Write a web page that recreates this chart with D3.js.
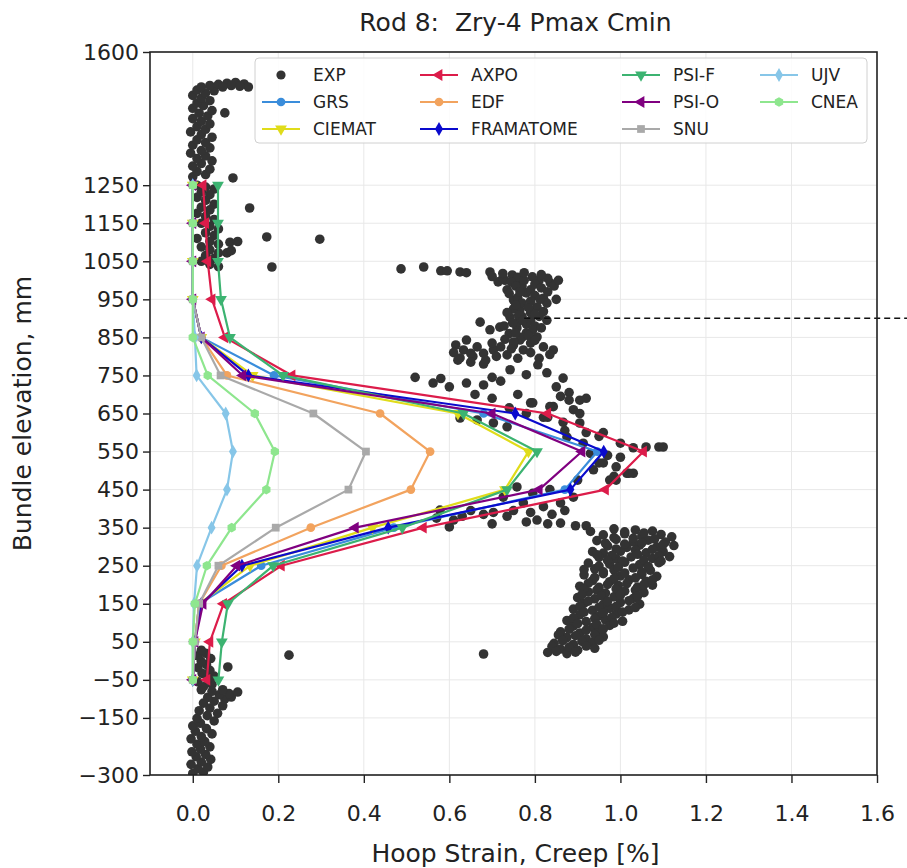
<!DOCTYPE html>
<html>
<head>
<meta charset="utf-8">
<script src="https://cdn.jsdelivr.net/npm/d3@7/dist/d3.min.js"></script>
<style>
  body { margin: 0; background: #fff; }
  text { font-family: "DejaVu Sans", sans-serif; fill: #222; }
</style>
</head>
<body>
<svg id="chart" width="907" height="868"></svg>
<script>
// ---- data -------------------------------------------------------------
const elevations = [1250, 1150, 1050, 950, 850, 750, 650, 550, 450, 350, 250, 150, 50, -50];

const grs       = [0.0, 0.0, 0.0, 0.0, 0.02, 0.19, 0.68, 0.946, 0.87, 0.47, 0.16, 0.015, 0.005, 0.0];
const ciemat    = [0.0, 0.0, 0.0, 0.0, 0.02, 0.14, 0.62, 0.785, 0.73, 0.42, 0.134, 0.015, 0.005, 0.0];
const axpo      = [0.024, 0.03, 0.035, 0.045, 0.075, 0.232, 0.83, 1.054, 0.965, 0.539, 0.207, 0.072, 0.04, 0.033];
const edf       = [0.0, 0.0, 0.0, 0.0, 0.02, 0.08, 0.438, 0.555, 0.51, 0.276, 0.067, 0.015, 0.005, 0.0];
const framatome = [0.0, 0.0, 0.0, 0.0, 0.02, 0.13, 0.754, 0.961, 0.883, 0.457, 0.115, 0.02, 0.005, 0.0];
const psiF      = [0.059, 0.059, 0.059, 0.066, 0.087, 0.211, 0.633, 0.805, 0.735, 0.49, 0.188, 0.082, 0.068, 0.06];
const psiO      = [0.0, 0.0, 0.0, 0.0, 0.02, 0.117, 0.70, 0.91, 0.81, 0.38, 0.103, 0.024, 0.005, 0.0];
const snu       = [0.0, 0.0, 0.0, 0.0, 0.02, 0.065, 0.282, 0.405, 0.364, 0.194, 0.06, 0.015, 0.005, 0.0];
const ujv       = [0.0, 0.0, 0.0, 0.0, 0.005, 0.009, 0.077, 0.094, 0.08, 0.044, 0.01, 0.003, 0.0, 0.0];
const cnea      = [0.0, 0.0, 0.0, 0.0, 0.0, 0.035, 0.145, 0.192, 0.172, 0.091, 0.033, 0.005, 0.0, 0.0];

const seriesNames = ["GRS", "CIEMAT", "AXPO", "EDF", "FRAMATOME", "PSI-F", "PSI-O", "SNU", "UJV", "CNEA"];
const seriesValues = [grs, ciemat, axpo, edf, framatome, psiF, psiO, snu, ujv, cnea];

// measured hoop strain [%] vs. elevation [mm]
const expLower = [
  [0.00,-296],[0.025,-292],[0.012,-284],[0.035,-279],[-0.004,-272],[0.02,-266],[0.042,-259],[0.008,-252],
  [0.03,-246],[-0.002,-239],[0.018,-232],[0.04,-226],[0.01,-219],[0.028,-212],[-0.004,-205],[0.02,-199],
  [0.045,-192],[0.006,-185],[0.032,-178],[0.0,-171],[0.018,-164],[0.05,-158],[0.01,-151],[0.034,-144],
  [0.058,-138],[0.015,-131],[0.04,-124],[0.07,-118],[0.025,-111],[0.05,-106],[0.075,-100],[0.09,-95],
  [0.035,-96],[0.062,-89],[0.085,-86],[0.105,-82],[0.045,-80],[0.02,-76],[0.07,-76],
  [0.025,-68],[0.045,-62],[0.012,-55],[0.035,-48],[0.05,-40],[0.022,-33],[0.04,-25],[0.012,-18],
  [0.032,-10],[0.02,-2],[0.042,6],[0.012,13],[0.03,20],[0.02,28],
  [0.082,-16],[0.225,15],[0.68,18]
];
const expUpper = [
  [0.00,1272],[0.03,1278],[0.01,1286],[0.04,1292],[0.00,1300],[0.02,1307],[0.045,1314],[0.01,1320],
  [0.03,1327],[-0.005,1334],[0.02,1341],[0.04,1348],[0.00,1355],[0.03,1362],[0.01,1369],[0.045,1376],
  [0.02,1383],[-0.005,1390],[0.03,1397],[0.01,1404],[0.04,1411],[0.02,1418],[0.00,1425],[0.035,1432],
  [0.015,1439],[0.075,1440],[0.045,1446],[0.00,1452],[0.025,1459],[0.01,1466],[0.04,1472],[0.02,1479],
  [0.00,1486],[0.03,1492],[0.05,1498],[0.01,1500],[0.02,1508],[0.04,1512],[0.06,1515],[0.08,1518],
  [0.10,1520],[0.12,1516],[0.13,1508],[0.11,1510],[0.09,1512],[0.07,1508],[0.094,1269],
  [0.01,1250],[0.03,1245],[0.05,1240],[0.02,1232],[0.04,1225],[0.01,1218],[0.03,1210],[0.05,1200],
  [0.02,1192],[0.04,1185],[0.01,1176],[0.03,1168],[0.05,1160],[0.02,1150],[0.04,1142],[0.06,1135],
  [0.03,1125],[0.05,1118],[0.01,1110],[0.04,1102],[0.06,1095],[0.02,1088],[0.04,1080],[0.06,1072],
  [0.03,1065],[0.05,1058],[0.02,1050],[0.04,1042],[0.06,1036],
  [0.133,1190],[0.173,1114],[0.297,1108],[0.185,1035],[0.087,1100],[0.105,1102],[0.08,1072],[0.09,1078],
  [0.487,1030],[0.54,1035],[0.58,1025],[0.595,1025],[0.625,1022],[0.64,1020],[0.695,1022]
];
const expBalloonUpper = [
  [0.714,996],[0.747,1014],[0.766,993],[0.794,1009],[0.836,993],[0.735,975],[0.78,967],[0.82,953],
  [0.75,948],[0.805,930],[0.828,940],[0.765,922],[0.742,903],[0.79,895],[0.828,895],[0.672,890],
  [0.718,877],[0.758,875],[0.78,862],[0.695,870],[0.805,851],[0.765,843],[0.64,843],[0.665,825],
  [0.633,817],[0.703,817],[0.773,817],[0.82,825],[0.843,817],[0.735,804],[0.625,796],
  [0.77,985],[0.79,975],[0.76,955],[0.80,960],[0.77,940],[0.79,915],[0.81,905],[0.75,925],
  [0.77,905],[0.78,885],[0.80,880],[0.76,890],[0.74,860],[0.77,850],[0.79,835],[0.75,830],
  [0.81,1000],[0.83,1005],[0.73,1000],[0.76,1008],
  [0.725,1005],[0.745,995],[0.755,985],[0.775,1000],[0.80,990],[0.815,980],[0.83,970],[0.845,985],
  [0.74,965],[0.765,970],[0.79,945],[0.812,950],[0.755,935],[0.785,928],[0.82,918],[0.735,915],
  [0.762,908],[0.80,912],[0.748,888],[0.772,895],[0.795,870],[0.815,875],[0.728,880],[0.755,862],
  [0.785,855],[0.73,845],[0.75,838],[0.80,842],[0.70,835],[0.72,825],[0.745,820],[0.79,810],
  [0.68,808],[0.71,800],[0.76,795],[0.655,800],[0.685,790],[0.81,795],[0.835,805],[0.85,950],
  [0.855,1000],[0.70,1010],[0.725,1018],[0.775,1020],[0.815,1015],[0.615,830],[0.65,808],[0.61,810]
];
const expBand = [
  [0.62,790],[0.65,785],[0.68,780],[0.742,765],[0.78,752],[0.828,757],[0.866,743],[0.807,778],
  [0.562,730],[0.60,720],[0.64,730],[0.68,725],[0.52,745],[0.58,742],[0.70,745],[0.72,735],
  [0.85,720],[0.88,705],[0.92,690],[0.86,695],[0.76,700],[0.70,690],[0.66,700],[0.74,665],
  [0.79,678],[0.843,668],[0.89,660],[0.905,685],[0.82,640],[0.866,627],[0.905,625],
  [0.625,638],[0.665,633],[0.703,625],[0.735,615],[0.78,650],[0.83,640],
  [0.795,678],[0.835,668],[0.88,685],[0.905,650],[0.87,605],[0.92,600],[0.95,590],[0.96,600],
  [0.875,588],[0.913,572],[0.95,520],[1.015,493],[0.975,475],[0.9,475],[0.93,545],[0.97,540],[1.0,535],
  [0.96,520],[0.99,510],[1.02,493],[0.985,485],[1.0,572],[1.03,560],[1.06,562],[1.09,562],[1.10,562],
  [0.937,502],[0.99,475],[1.03,493],
  [0.758,457],[0.795,440],[0.835,450],[0.89,430],
  [0.726,430],[0.773,415],[0.82,405],[0.86,415],[0.805,370],[0.86,362],[0.703,390],[0.735,380],
  [0.578,396],[0.61,370],[0.60,352],[0.895,355],[0.92,355],[0.93,340],
  [0.65,395],[0.68,385],[0.75,395],[0.79,390],[0.84,385],[0.87,395],[0.83,360],[0.78,365],
  [0.70,360],[0.63,380],[0.57,375]
];
const expBalloonLower = [
  [0.985,347],[1.035,344],[1.075,341],
  [0.96,331],[1.01,334],[1.05,328],[1.095,332],[1.12,326],
  [0.945,316],[0.99,319],[1.03,313],[1.065,317],[1.105,312],
  [0.97,302],[1.015,298],[1.045,304],[1.085,299],[1.125,303],
  [0.935,287],[0.96,283],[1.0,288],[1.06,284],[1.1,287],
  [0.95,272],[0.99,268],[1.025,273],[1.075,269],[1.115,274],
  [0.925,257],[0.975,254],[1.01,259],[1.045,253],[1.09,258],
  [0.94,242],[0.985,239],[1.03,244],[1.07,238],
  [0.915,226],[0.96,229],[1.0,223],[1.05,227],[1.085,222],
  [0.935,211],[0.975,208],[1.02,213],[1.06,209],
  [0.905,196],[0.95,193],[0.995,198],[1.04,194],[1.075,199],
  [0.925,181],[0.965,178],[1.01,183],[1.055,179],
  [0.9,166],[0.94,163],[0.985,168],[1.03,164],
  [0.915,151],[0.96,148],[1.0,153],[1.045,149],
  [0.89,136],[0.935,133],[0.975,138],[1.02,134],
  [0.905,121],[0.95,118],[0.99,123],
  [0.875,106],[0.92,103],[0.965,108],[1.005,104],
  [0.89,91],[0.935,88],[0.975,93],
  [0.86,76],[0.905,73],[0.95,78],
  [0.875,61],[0.92,58],[0.96,63],
  [0.845,46],[0.89,43],[0.935,48],
  [0.86,31],[0.9,28],[0.94,33],
  [0.83,22],[0.875,19],
  [1.01,339],[1.055,336],[0.985,324],[1.03,322],[1.08,320],[0.965,309],[1.01,307],[1.05,310],
  [1.1,306],[0.99,294],[1.035,291],[1.075,293],[0.945,279],[0.98,277],[1.04,280],[1.09,276],
  [0.97,264],[1.005,262],[1.055,265],[1.095,262],[0.95,249],[0.995,246],[1.065,248],[0.915,240],
  [0.96,234],[1.01,231],[1.05,233],[0.94,219],[0.985,216],[1.035,218],[1.075,213],[0.925,204],
  [0.97,201],[1.015,203],[1.055,200],[0.915,188],[0.945,186],[0.99,189],[1.035,186],[0.91,174],
  [0.955,171],[1.0,173],[1.04,170],[0.925,157],[0.97,156],[1.02,158],[0.905,143],[0.95,141],
  [0.99,143],[1.035,140],[0.915,128],[0.96,126],[1.005,128],[0.89,113],[0.94,111],[0.98,114],
  [0.9,98],[0.945,96],[0.985,99],[0.88,83],[0.92,81],[0.96,84],[0.855,68],[0.895,66],
  [0.94,69],[0.865,53],[0.91,51],[0.95,54],[0.84,38],[0.88,36],[0.92,39],[0.85,25],[0.895,23]
];
const expPoints = [].concat(expLower, expUpper, expBalloonUpper, expBand, expBalloonLower);

const xTicks = [0.0, 0.2, 0.4, 0.6, 0.8, 1.0, 1.2, 1.4, 1.6];
const yTicks = [1600, 1250, 1150, 1050, 950, 850, 750, 650, 550, 450, 350, 250, 150, 50, -50, -150, -300];
const markerElevation = 900;   // dashed reference line

// ---- styling ------------------------------------------------------------
const style = {
  "GRS":       { color: "#3a8ddb", marker: "circle" },
  "CIEMAT":    { color: "#e0dc1a", marker: "tdown" },
  "AXPO":      { color: "#dc1c4a", marker: "tleft" },
  "EDF":       { color: "#f2a35e", marker: "circle" },
  "FRAMATOME": { color: "#0a0acd", marker: "diamond" },
  "PSI-F":     { color: "#3cb371", marker: "tdown" },
  "PSI-O":     { color: "#800080", marker: "tleft" },
  "SNU":       { color: "#a9a9a9", marker: "square" },
  "UJV":       { color: "#87c6e8", marker: "diamond" },
  "CNEA":      { color: "#8ee68e", marker: "hexagon" }
};

const hexagon = {
  draw(ctx, size) {
    const r = Math.sqrt(size / (1.5 * Math.sqrt(3)));
    for (let i = 0; i < 6; i++) {
      const a = Math.PI / 6 + i * Math.PI / 3;
      const px = r * Math.cos(a), py = r * Math.sin(a);
      if (i === 0) ctx.moveTo(px, py); else ctx.lineTo(px, py);
    }
    ctx.closePath();
  }
};

function markerPath(kind) {
  switch (kind) {
    case "circle":  return { d: d3.symbol(d3.symbolCircle, 60)(), rot: 0 };
    case "square":  return { d: d3.symbol(d3.symbolSquare, 60)(), rot: 0 };
    case "diamond": return { d: d3.symbol(d3.symbolDiamond, 55)(), rot: 0 };
    case "tdown":   return { d: d3.symbol(d3.symbolTriangle, 60)(), rot: 180 };
    case "tleft":   return { d: d3.symbol(d3.symbolTriangle, 60)(), rot: -90 };
    case "hexagon": return { d: d3.symbol(hexagon, 60)(), rot: 0 };
  }
}

// ---- layout -------------------------------------------------------------
const W = 907, H = 868;
const plot = { left: 150, right: 877, top: 52, bottom: 775 };

const x = d3.scaleLinear().domain([-0.1, 1.6]).range([plot.left, plot.right]);
const y = d3.scaleLinear().domain([-300, 1600]).range([plot.bottom, plot.top]);

const svg = d3.select("#chart");

svg.append("defs").append("clipPath").attr("id", "plotClip")
  .append("rect")
  .attr("x", plot.left).attr("y", plot.top)
  .attr("width", plot.right - plot.left).attr("height", plot.bottom - plot.top);

// grid
const grid = svg.append("g").attr("class", "grid");
grid.selectAll("line.v").data(xTicks).join("line")
  .attr("x1", d => x(d)).attr("x2", d => x(d))
  .attr("y1", plot.top).attr("y2", plot.bottom)
  .attr("stroke", "#e8e8e8").attr("stroke-width", 1);
grid.selectAll("line.h").data(yTicks).join("line")
  .attr("x1", plot.left).attr("x2", plot.right)
  .attr("y1", d => y(d)).attr("y2", d => y(d))
  .attr("stroke", "#e8e8e8").attr("stroke-width", 1);

const body = svg.append("g").attr("clip-path", "url(#plotClip)");

// measured data
body.append("g").selectAll("circle").data(expPoints).join("circle")
  .attr("cx", d => x(d[0])).attr("cy", d => y(d[1]))
  .attr("r", 4.8).attr("fill", "#333");

// code predictions
const line = d3.line().x(d => x(d[0])).y(d => y(d[1]));
seriesNames.forEach((name, i) => {
  const pts = seriesValues[i].map((v, j) => [v, elevations[j]]);
  const st = style[name];
  const g = body.append("g");
  g.append("path").datum(pts).attr("d", line)
    .attr("fill", "none").attr("stroke", st.color).attr("stroke-width", 2.2)
    .attr("stroke-linejoin", "round");
  const m = markerPath(st.marker);
  g.selectAll("path.m").data(pts).join("path")
    .attr("d", m.d)
    .attr("transform", d => `translate(${x(d[0])},${y(d[1])}) rotate(${m.rot})`)
    .attr("fill", st.color);
});

// dashed reference line at the burst elevation, running out past the frame
svg.append("line")
  .attr("x1", x(0.775)).attr("x2", W)
  .attr("y1", y(markerElevation)).attr("y2", y(markerElevation))
  .attr("stroke", "#111").attr("stroke-width", 1.5).attr("stroke-dasharray", "6,4");

// axes
const xAxis = svg.append("g").attr("transform", `translate(0,${plot.bottom})`)
  .call(d3.axisBottom(x).tickValues(xTicks).tickFormat(d3.format(".1f")).tickSize(8).tickPadding(22));
const yAxis = svg.append("g").attr("transform", `translate(${plot.left},0)`)
  .call(d3.axisLeft(y).tickValues(yTicks).tickFormat(d => d < 0 ? "\u2212" + Math.abs(d) : d).tickSize(7).tickPadding(4));
[xAxis, yAxis].forEach(a => {
  a.select(".domain").remove();
  a.selectAll(".tick line").attr("stroke", "#222").attr("stroke-width", 1.4);
  a.selectAll(".tick text").style("font-size", "22px").attr("fill", "#222");
});

// frame
svg.append("rect")
  .attr("x", plot.left).attr("y", plot.top)
  .attr("width", plot.right - plot.left).attr("height", plot.bottom - plot.top)
  .attr("fill", "none").attr("stroke", "#222").attr("stroke-width", 1.6);

// titles
svg.append("text").attr("x", (plot.left + plot.right) / 2 + 2).attr("y", 31)
  .attr("text-anchor", "middle").style("font-size", "25px").style("white-space", "pre")
  .text("Rod 8:  Zry-4 Pmax Cmin");
svg.append("text").attr("x", (plot.left + plot.right) / 2 + 2).attr("y", 862)
  .attr("text-anchor", "middle").style("font-size", "25px")
  .text("Hoop Strain, Creep [%]");
svg.append("text")
  .attr("transform", `translate(31,${(plot.top + plot.bottom) / 2}) rotate(-90)`)
  .attr("text-anchor", "middle").style("font-size", "25px")
  .text("Bundle elevation, mm");

// legend
const legendEntries = ["EXP"].concat(seriesNames);
const legend = svg.append("g");
legend.append("rect")
  .attr("x", 255).attr("y", 58).attr("width", 612).attr("height", 85)
  .attr("rx", 4).attr("fill", "#fff").attr("fill-opacity", 0.85)
  .attr("stroke", "#d0d0d0").attr("stroke-width", 1);
const colX = [262, 420, 622, 760];
const rowY = [75, 102, 129];
legendEntries.forEach((name, i) => {
  const cx = colX[Math.floor(i / 3)], cy = rowY[i % 3];
  const g = legend.append("g").attr("transform", `translate(${cx},${cy})`);
  if (name === "EXP") {
    g.append("circle").attr("cx", 19).attr("cy", 0).attr("r", 4.6).attr("fill", "#333");
  } else {
    const st = style[name];
    g.append("line").attr("x1", 0).attr("x2", 38).attr("y1", 0).attr("y2", 0)
      .attr("stroke", st.color).attr("stroke-width", 2.2);
    const m = markerPath(st.marker);
    g.append("path").attr("d", m.d).attr("transform", `translate(19,0) rotate(${m.rot})`).attr("fill", st.color);
  }
  g.append("text").attr("x", 51).attr("y", 0).attr("dy", "0.35em")
    .style("font-size", "17px").text(name);
});
</script>
</body>
</html>
